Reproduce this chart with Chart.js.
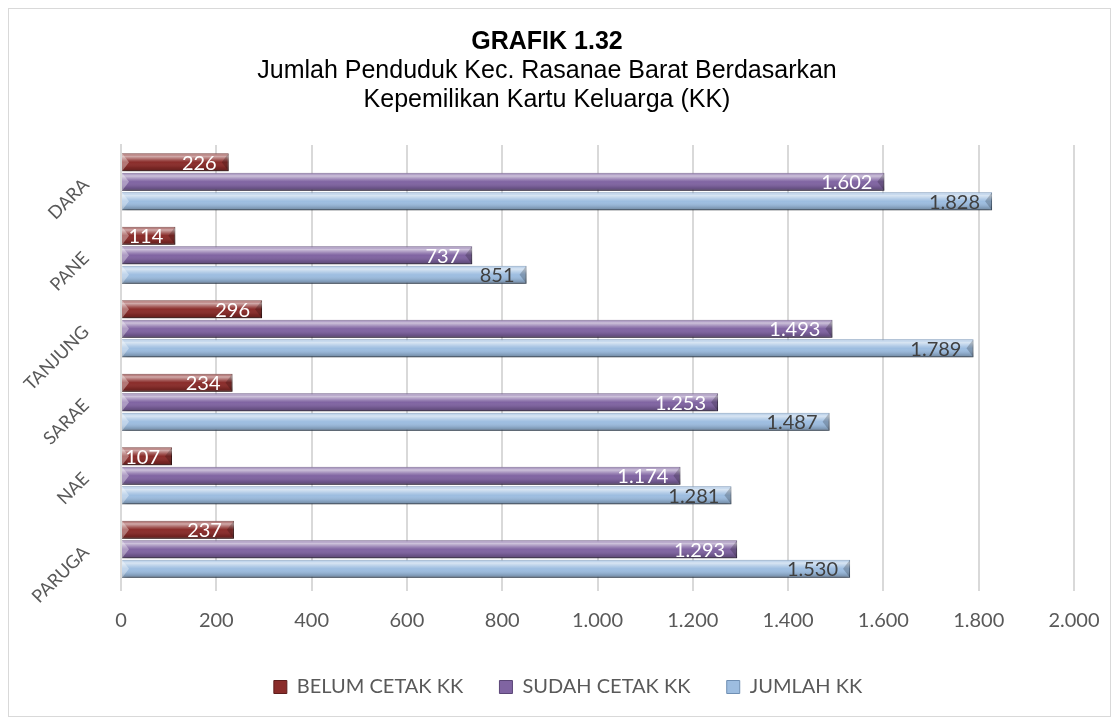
<!DOCTYPE html>
<html>
<head>
<meta charset="utf-8">
<script src="https://cdn.jsdelivr.net/npm/chart.js@4.4.1/dist/chart.umd.min.js"></script>
<style>
  html, body { margin: 0; padding: 0; background: #fff; }
  #wrap { position: absolute; left: 8px; top: 8px; width: 1101px; height: 707px; border: 1px solid #d9d9d9; }
  #frame { position: absolute; left: 0; top: 0; width: 1118px; height: 722px; }
</style>
</head>
<body>
<div id="wrap"></div>
<div id="frame"><canvas id="chart" width="1118" height="722"></canvas></div>
<script>
// chart data
const categories = ['DARA', 'PANE', 'TANJUNG', 'SARAE', 'NAE', 'PARUGA'];
const belumCetak = [226, 114, 296, 234, 107, 237];
const sudahCetak = [1602, 737, 1493, 1253, 1174, 1293];
const jumlahKK = [1828, 851, 1789, 1487, 1281, 1530];
const xTicks = [0, 200, 400, 600, 800, 1000, 1200, 1400, 1600, 1800, 2000];

const labelColors = ['#ffffff', '#ffffff', '#404040'];
const uiFont = 'Lato, "Open Sans", sans-serif';

function fmt(v) {
    return v.toString().replace(/\B(?=(\d{3})+(?!\d))/g, '.');
}

// shadow + bevel look for the bars
const bevelPlugin = {
    id: 'bevel',
    beforeDatasetsDraw(chart) {
        const c = chart.ctx;
        c.save();
        c.shadowColor = 'rgba(0,0,0,0.4)';
        c.shadowBlur = 5;
        c.shadowOffsetX = 1;
        c.shadowOffsetY = 4;
    },
    afterDatasetsDraw(chart) {
        const c = chart.ctx;
        c.restore();
        c.save();
        chart.data.datasets.forEach((ds, i) => {
            const meta = chart.getDatasetMeta(i);
            meta.data.forEach((bar) => {
                const left = bar.base, right = bar.x;
                const top = bar.y - bar.height / 2, h = bar.height;
                const g = c.createLinearGradient(0, top, 0, top + h);
                g.addColorStop(0, 'rgba(255,255,255,0.15)');
                g.addColorStop(0.18, 'rgba(255,255,255,0.6)');
                g.addColorStop(0.38, 'rgba(255,255,255,0.2)');
                g.addColorStop(0.5, 'rgba(255,255,255,0)');
                g.addColorStop(0.8, 'rgba(0,0,0,0.12)');
                g.addColorStop(1, 'rgba(0,0,0,0.3)');
                c.fillStyle = g;
                c.fillRect(left, top, right - left, h);
                // small bevel triangles at the ends
                c.fillStyle = 'rgba(255,255,255,0.35)';
                c.beginPath();
                c.moveTo(left, top);
                c.lineTo(left + 7, top + h / 2);
                c.lineTo(left, top + h);
                c.closePath();
                c.fill();
                c.fillStyle = 'rgba(0,0,0,0.2)';
                c.beginPath();
                c.moveTo(right, top);
                c.lineTo(right - 7, top + h / 2);
                c.lineTo(right, top + h);
                c.closePath();
                c.fill();
            });
        });
        c.restore();
    }
};

// value labels at the inner end of each bar
const valueLabels = {
    id: 'valueLabels',
    afterDraw(chart) {
        const c = chart.ctx;
        c.save();
        c.font = '20px ' + uiFont;
        c.textAlign = 'right';
        c.textBaseline = 'middle';
        chart.data.datasets.forEach((ds, i) => {
            const meta = chart.getDatasetMeta(i);
            meta.data.forEach((bar, j) => {
                c.fillStyle = labelColors[i];
                c.fillText(fmt(ds.data[j]), bar.x - 12, bar.y + 1);
            });
        });
        c.restore();
    }
};

// the legend sits a little right of the plot centre
const legendShift = {
    id: 'legendShift',
    afterLayout(chart) {
        chart.legend.left += 21;
        chart.legend.right += 21;
    }
};

const ctx = document.getElementById('chart').getContext('2d');
new Chart(ctx, {
    type: 'bar',
    data: {
        labels: categories,
        datasets: [
            { label: 'BELUM CETAK KK', data: belumCetak, backgroundColor: '#8a2c2a', borderColor: '#5e1d1c', borderWidth: 1 },
            { label: 'SUDAH CETAK KK', data: sudahCetak, backgroundColor: '#8064a2', borderColor: '#5b4677', borderWidth: 1 },
            { label: 'JUMLAH KK', data: jumlahKK, backgroundColor: '#9dbde0', borderColor: '#6f8fb3', borderWidth: 1 }
        ]
    },
    options: {
        indexAxis: 'y',
        responsive: false,
        animation: false,
        layout: { padding: { left: 20, right: 44, top: 27, bottom: 15 } },
        datasets: {
            bar: { categoryPercentage: 0.8, barPercentage: 0.92 }
        },
        scales: {
            x: {
                min: 0,
                max: 2000,
                afterBuildTicks(scale) { scale.ticks = xTicks.map(v => ({ value: v })); },
                ticks: {
                    color: '#595959',
                    font: { family: uiFont, size: 20 },
                    padding: 18,
                    callback: (v) => fmt(v)
                },
                grid: { color: '#d9d9d9', lineWidth: 2, drawTicks: true, tickLength: 5 },
                border: { display: false }
            },
            y: {
                afterFit(scale) { scale.width = 101; },
                ticks: {
                    color: '#595959',
                    font: { family: uiFont, size: 18 },
                    minRotation: 45,
                    maxRotation: 45,
                    padding: 27
                },
                grid: { display: false },
                border: { display: true, color: '#d9d9d9', width: 2 }
            }
        },
        plugins: {
            title: {
                display: true,
                text: 'GRAFIK 1.32',
                color: '#000',
                font: { family: '"Liberation Sans", Arial, sans-serif', size: 25, weight: 'bold' },
                padding: { top: 0, bottom: 0 }
            },
            subtitle: {
                display: true,
                text: ['Jumlah Penduduk Kec. Rasanae Barat Berdasarkan', 'Kepemilikan Kartu Keluarga (KK)'],
                color: '#000',
                font: { family: '"Liberation Sans", Arial, sans-serif', size: 25, lineHeight: 1.16 },
                padding: { bottom: 30 }
            },
            legend: {
                position: 'bottom',
                labels: {
                    color: '#595959',
                    font: { family: uiFont, size: 20 },
                    boxWidth: 13,
                    boxHeight: 13,
                    padding: 26,
                    generateLabels(chart) {
                        const items = Chart.defaults.plugins.legend.labels.generateLabels(chart);
                        items.forEach((it, i) => {
                            if (i < items.length - 1) it.text += '  ';
                        });
                        return items;
                    }
                }
            },
            tooltip: { enabled: false }
        }
    },
    plugins: [bevelPlugin, valueLabels, legendShift]
});
</script>
</body>
</html>
